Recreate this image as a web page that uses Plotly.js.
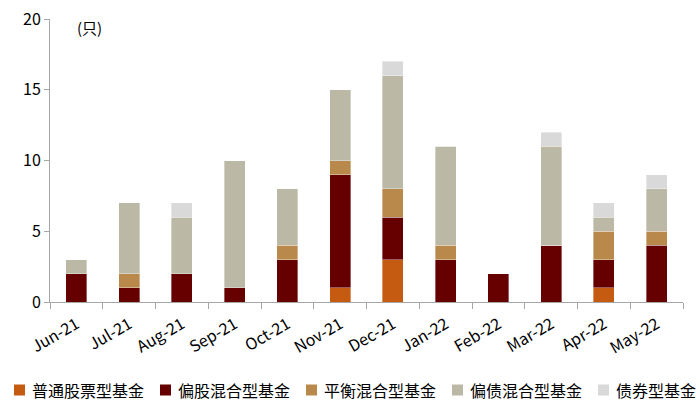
<!DOCTYPE html>
<html>
<head>
<meta charset="utf-8">
<script src="https://cdn.plot.ly/plotly-3.0.1.min.js"></script>
<style>
  html, body { margin: 0; padding: 0; background: #fff; }
  #plot { width: 700px; height: 420px; }
</style>
</head>
<body>
<div id="plot"></div>
<script>
// 数据
const months = ['Jun-21', 'Jul-21', 'Aug-21', 'Sep-21', 'Oct-21', 'Nov-21',
                'Dec-21', 'Jan-22', 'Feb-22', 'Mar-22', 'Apr-22', 'May-22'];
const stockFund    = [0, 0, 0, 0, 0, 1, 3, 0, 0, 0, 1, 0]; // 普通股票型基金
const equityMixed  = [2, 1, 2, 1, 3, 8, 3, 3, 2, 4, 2, 4]; // 偏股混合型基金
const balanced     = [0, 1, 0, 0, 1, 1, 2, 1, 0, 0, 2, 1]; // 平衡混合型基金
const bondMixed    = [1, 5, 4, 9, 4, 5, 8, 7, 0, 7, 1, 3]; // 偏债混合型基金
const bondFund     = [0, 0, 1, 0, 0, 0, 1, 0, 0, 1, 1, 1]; // 债券型基金

const seriesNames  = ['普通股票型基金', '偏股混合型基金', '平衡混合型基金', '偏债混合型基金', '债券型基金'];
const seriesValues = [stockFund, equityMixed, balanced, bondMixed, bondFund];
const seriesColors = ['#C55A11', '#660000', '#B8894A', '#BBB8A6', '#D9D9D9'];

const FONT = 'Noto Sans CJK SC, Noto Sans, sans-serif';

// 绘图区 (像素)
const W = 700, H = 420;
const M = { l: 50, r: 17, t: 19, b: 118 };
const plotW = W - M.l - M.r, plotH = H - M.t - M.b;
const px2x = px => (px - M.l) / plotW;
const px2y = py => (H - M.b - py) / plotH;

const traces = seriesNames.map((name, i) => ({
  type: 'bar',
  name: name,
  x: months,
  y: seriesValues[i],
  marker: {
    color: seriesColors[i],
    line: { color: 'rgba(255,255,255,0.6)', width: 0.6 }
  },
  showlegend: false,
  hoverinfo: 'skip'
}));

// 自定义图例 (plotly 的横向图例太宽, 会换行)
const legendY = 390, legendStep = 146, legendX0 = 14, sq = 11;
const legendShapes = seriesNames.map((name, i) => ({
  type: 'rect',
  xref: 'paper', yref: 'paper',
  x0: px2x(legendX0 + i * legendStep), x1: px2x(legendX0 + i * legendStep + sq),
  y0: px2y(legendY + sq / 2), y1: px2y(legendY - sq / 2),
  fillcolor: seriesColors[i],
  line: { width: 0 }
}));
const legendLabels = seriesNames.map((name, i) => ({
  text: name,
  xref: 'paper', yref: 'paper',
  x: px2x(legendX0 + i * legendStep + sq + 5), y: px2y(legendY),
  xanchor: 'left', yanchor: 'middle',
  showarrow: false,
  font: { family: FONT, size: 16, color: '#000' }
}));

const layout = {
  width: W,
  height: H,
  barmode: 'stack',
  bargap: 0.6,
  margin: M,
  paper_bgcolor: '#fff',
  plot_bgcolor: '#fff',
  font: { family: FONT, size: 15, color: '#000' },
  showlegend: false,
  xaxis: {
    type: 'category',
    tickangle: -30,
    showline: true,
    linecolor: '#A6A6A6',
    linewidth: 1,
    ticks: 'outside',
    tickson: 'boundaries',
    ticklen: 6,
    tickcolor: '#A6A6A6',
    showgrid: false,
    ticklabelstandoff: 6,
    tickfont: { family: FONT, size: 16 }
  },
  yaxis: {
    range: [0, 20],
    dtick: 5,
    showline: true,
    linecolor: '#A6A6A6',
    linewidth: 1,
    ticks: 'outside',
    ticklen: 5,
    tickcolor: '#A6A6A6',
    showgrid: false,
    zeroline: false,
    tickfont: { family: FONT, size: 16 }
  },
  shapes: legendShapes,
  annotations: [{
    text: '(只)',
    xref: 'paper', yref: 'paper',
    x: 0.04, y: 0.97,
    xanchor: 'left', yanchor: 'middle',
    showarrow: false,
    font: { family: FONT, size: 15 }
  }].concat(legendLabels)
};

Plotly.newPlot('plot', traces, layout, { staticPlot: true, displayModeBar: false });
</script>
</body>
</html>
